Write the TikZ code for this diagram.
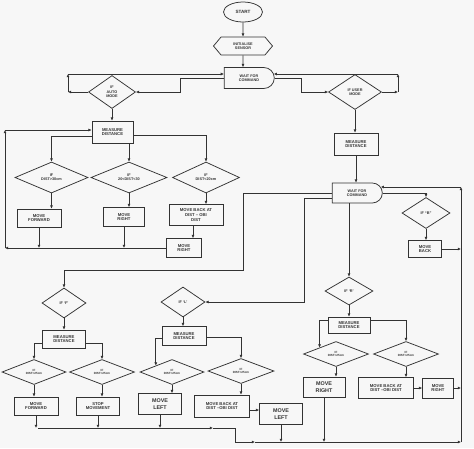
\documentclass[tikz,border=0pt]{standalone}
\usepackage{fontspec}
\setmainfont{Liberation Sans}
\usetikzlibrary{shapes.geometric,shapes.misc,shapes.symbols,arrows.meta}
\tikzset{
  box/.style={draw, rectangle, align=center, inner sep=0.5pt, font=\fontsize{4.2}{4.8}\selectfont\bfseries},
  bigbox/.style={box, font=\fontsize{5.4}{6.4}\selectfont\bfseries},
  decision/.style={draw, diamond, align=center, inner sep=0pt, font=\fontsize{3.8}{4.4}\selectfont\bfseries},
  smalldecision/.style={decision, font=\fontsize{3}{3.6}\selectfont\bfseries},
  waitbox/.style={draw, rounded rectangle, rounded rectangle west arc=none, align=center, inner sep=0.5pt, minimum width=51pt, minimum height=20pt, font=\fontsize{3.8}{4.4}\selectfont\bfseries},
  arr/.style={-{Latex[length=3.2pt,width=3pt]}}
}
\begin{document}
\begin{tikzpicture}[x=1pt,y=-1pt,line width=0.75pt,color=black!80]
\fill[black!3] (0,0) rectangle (474,448);
\useasboundingbox (0,0) rectangle (474,448);
\node[draw, ellipse, minimum width=39pt, minimum height=20pt, inner sep=0pt, font=\fontsize{4.6}{5}\selectfont\bfseries] (start) at (243,12) {START};
\node[draw, signal, signal to=east and west, signal pointer angle=100, minimum width=59pt, minimum height=18pt, inner sep=0.5pt, align=center, font=\fontsize{3.8}{4.4}\selectfont\bfseries] (init) at (243,46) {INITIALISE\\SENSOR};
\node[waitbox, minimum height=21pt] (wait1) at (249,78) {WAIT FOR\\COMMAND};
\node[decision, minimum width=47pt, minimum height=33pt] (auto) at (112,92) {IF\\AUTO\\MODE};
\node[decision, minimum width=53pt, minimum height=35pt] (user) at (355,92) {IF USER\\MODE};
\node[box, minimum width=41pt, minimum height=22pt] (meas1) at (112.5,132) {MEASURE\\DISTANCE};
\node[decision, minimum width=73pt, minimum height=31pt] (d1) at (51.5,177.5) {IF\\DIST>30cm};
\node[decision, minimum width=76pt, minimum height=31pt] (d2) at (129,177.5) {IF\\20<DIST<30};
\node[decision, minimum width=67pt, minimum height=31pt] (d3) at (206,177.5) {IF\\DIST<20cm};
\node[box, minimum width=44pt, minimum height=18pt] (mf1) at (39,218) {MOVE\\FORWARD};
\node[box, minimum width=41pt, minimum height=19pt] (mr1) at (124,217) {MOVE\\RIGHT};
\node[box, minimum width=54pt, minimum height=21pt] (mb1) at (196,215) {MOVE BACK AT\\DIST -- OBI\\DIST};
\node[box, minimum width=35pt, minimum height=19pt] (mr2) at (184,248) {MOVE\\RIGHT};
\node[box, minimum width=44pt, minimum height=22pt] (meas2) at (356,144) {MEASURE\\DISTANCE};
\node[waitbox] (wait2) at (357,193) {WAIT FOR\\COMMAND};
\node[decision, minimum width=48pt, minimum height=31pt] (ifb) at (426,213) {IF “B”};
\node[box, minimum width=33pt, minimum height=17pt] (mback) at (425,249) {MOVE\\BACK};
\node[decision, minimum width=44pt, minimum height=30pt] (iff) at (64,303) {IF ‘F’};
\node[decision, minimum width=44pt, minimum height=30pt] (ifl) at (183,302) {IF ‘L’};
\node[decision, minimum width=48pt, minimum height=28pt] (ifr) at (349,291) {IF ‘R’};
\node[box, minimum width=43pt, minimum height=18pt] (measf) at (64,339) {MEASURE\\DISTANCE};
\node[box, minimum width=44pt, minimum height=19pt] (measl) at (184,336) {MEASURE\\DISTANCE};
\node[box, minimum width=42pt, minimum height=16pt] (measr) at (349,325) {MEASURE\\DISTANCE};
\node[smalldecision, minimum width=64pt, minimum height=25pt] (da) at (34,372) {IF\\DIST>25cm};
\node[smalldecision, minimum width=65pt, minimum height=25pt] (db) at (102,372) {IF\\DIST<25cm};
\node[smalldecision, minimum width=64pt, minimum height=25pt] (dc) at (172,372) {IF\\DIST>25cm};
\node[smalldecision, minimum width=66pt, minimum height=25pt] (dd) at (241,371) {IF\\DIST<25cm};
\node[smalldecision, minimum width=65pt, minimum height=25pt] (de) at (336,354) {IF\\DIST>25cm};
\node[smalldecision, minimum width=65pt, minimum height=25pt] (df) at (406,354) {IF\\DIST<25cm};
\node[box, minimum width=44pt, minimum height=18pt] (mf2) at (36,406) {MOVE\\FORWARD};
\node[box, minimum width=43pt, minimum height=18pt] (stop) at (98,406) {STOP\\MOVEMENT};
\node[bigbox, minimum width=43pt, minimum height=21pt] (mleft) at (160,404) {MOVE\\LEFT};
\node[box, minimum width=55pt, minimum height=22pt] (mbl) at (222,406) {MOVE BACK AT\\DIST --OBI DIST};
\node[bigbox, minimum width=43pt, minimum height=21pt] (ml2) at (281,414) {MOVE\\LEFT};
\node[bigbox, minimum width=42pt, minimum height=20pt] (mrr) at (324,387) {MOVE\\RIGHT};
\node[box, minimum width=55pt, minimum height=21pt] (mbr) at (386,388) {MOVE BACK AT\\DIST --OBI DIST};
\node[box, minimum width=31pt, minimum height=20pt] (mrr2) at (438,388) {MOVE\\RIGHT};
\coordinate (al1) at (68,92);
\coordinate (al2) at (68,74);
\coordinate (ur1) at (398,92);
\coordinate (ur2) at (398,74);
\coordinate (lp1) at (5,248);
\coordinate (lp2) at (5,130);
\coordinate (rtop) at (461,187);
\coordinate (rbot) at (461,442);
\coordinate (kf) at (243,270);
\coordinate (kl) at (304,302);
\coordinate (bl) at (38,428);
\coordinate (ba) at (213,428);
\coordinate (bm) at (235,428);
\coordinate (bb) at (255,442);
\draw[arr] (start) -- (init);
\draw[arr] (init) -- (init |- wait1.north);
\draw[arr] (auto.west) -- (al1);
\draw[arr] (al1) -- (al2);
\draw[arr] (al2) -- ([yshift=4pt]wait1.west);
\draw[arr] (wait1.west) -- ++(-44,0) |- (auto.east);
\draw[arr] (wait1.east) -- ++(27,0) |- (user.west);
\draw[arr] (user.east) -- (ur1);
\draw[arr] (ur1) -- (ur2);
\draw[arr] (ur2) -- ([xshift=-1pt,yshift=4pt]wait1.east);
\draw[arr] (auto.south) -- (auto.south |- meas1.north);
\draw[arr] ([yshift=-4pt]meas1.west) -| (d1.north);
\draw[arr] (d2.north |- meas1.south) -- (d2.north);
\draw[arr] ([yshift=-3pt]meas1.east) -| (d3.north);
\draw[arr] (d1.south) -- (d1.south |- mf1.north);
\draw[arr] (d2.south) -- (d2.south |- mr1.north);
\draw[arr] (d3.south) -- (d3.south |- mb1.north);
\draw[arr] ([xshift=-3pt]mb1.south) -- ([xshift=-3pt]mb1.south |- mr2.north);
\draw[arr] (mr2.west) -- (lp1);
\draw[arr] (lp1) -- (lp2);
\draw[arr] (lp2) -- ([yshift=2pt]meas1.west);
\draw[arr] (mf1.south) -- (mf1.south |- mr2.west);
\draw[arr] (mr1.south) -- (mr1.south |- mr2.west);
\draw[arr] (user.south) -- (user.south |- meas2.north);
\draw[arr] (meas2.south) -- (meas2.south |- wait2.north);
\draw[arr] (wait2.east) -| (ifb.north);
\draw[arr] (ifb.south) -- (ifb.south |- mback.north);
\draw[arr] (mback.east) -- (mback.east -| rtop);
\draw[arr] (rbot) -- (rtop);
\draw[arr] (rtop) -- ([xshift=-2pt,yshift=6pt]wait2.east);
\draw[arr] (wait2.west) -| (kf) -| (iff.north);
\draw[arr] ([yshift=-5pt]wait2.west) -| (kl) -- (ifl.east);
\draw[arr] (ifr.north |- wait2.south) -- (ifr.north);
\draw[arr] (iff.south) -- (measf.north);
\draw[arr] ([yshift=-4pt]measf.west) -| (da.north);
\draw[arr] ([yshift=-4pt]measf.east) -| (db.north);
\draw[arr] (da.south) -- (da.south |- mf2.north);
\draw[arr] (db.south) -- (db.south |- stop.north);
\draw[arr] (ifl.south) -- (ifl.south |- measl.north);
\draw[arr] ([yshift=-2pt]measl.west) -| (dc.north west);
\draw[arr] ([yshift=-1pt]measl.east) -| (dd.north);
\draw[arr] (dc.south) -- (dc.south |- mleft.north);
\draw[arr] (dd.south) -- (dd.south |- mbl.north);
\draw[arr] ([yshift=-4pt]mbl.east) -- ([yshift=-4pt]mbl.east -| ml2.west);
\draw[arr] (ifr.south) -- (measr.north);
\draw[arr] ([yshift=5pt]measr.west) -| (de.north west);
\draw[arr] ([yshift=5pt]measr.east) -| (df.north);
\draw[arr] (de.south) -- (de.south |- mrr.north);
\draw[arr] (df.south) -- (df.south |- mbr.north);
\draw[arr] (mbr.east) -- (mrr2.west);
\draw[arr] (mrr2.east) -- (mrr2.east -| rtop);
\draw[arr] (mf2.south) -- (mf2.south |- bl);
\draw[arr] (stop.south) -- (stop.south |- bl);
\draw[arr] (mleft.south) -- (mleft.south |- bl);
\draw[arr] (bl) -- (ba);
\draw[arr] (ba) -- (bm) |- (bb);
\draw[arr] (bb) -- (rbot);
\draw[arr] (ml2.south) -- (ml2.south |- rbot);
\draw[arr] (mrr.south) -- (mrr.south |- rbot);
\end{tikzpicture}
\end{document}
